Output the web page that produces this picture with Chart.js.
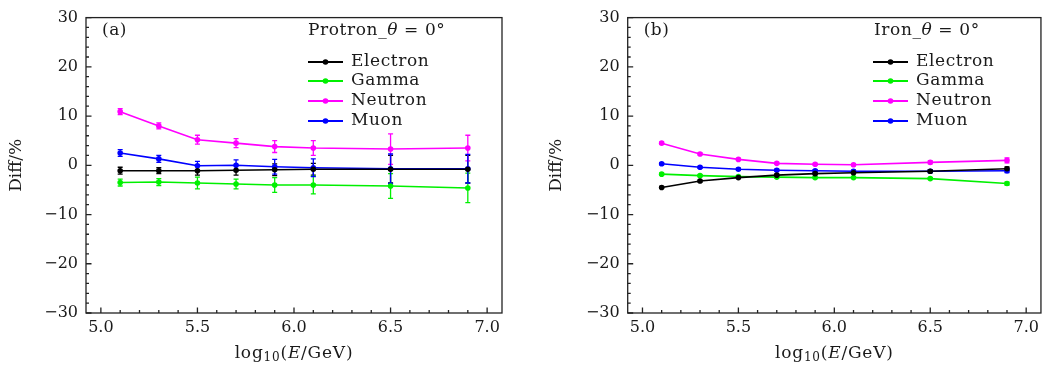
<!DOCTYPE html>
<html><head><meta charset="utf-8">
<script src="https://cdn.jsdelivr.net/npm/chart.js@4"></script>
<style>
html,body{margin:0;padding:0;background:#fff;width:1044px;height:374px;overflow:hidden}
#wa{position:absolute;left:0;top:0;width:520px;height:374px}
#wb{position:absolute;left:540px;top:0;width:504px;height:374px}
</style></head><body>
<div id="wa"><canvas id="ca" width="520" height="374"></canvas></div>
<div id="wb"><canvas id="cb" width="504" height="374"></canvas></div>
<script>
// ---------- data ----------
const energies = [5.1, 5.3, 5.5, 5.7, 5.9, 6.1, 6.5, 6.9];
const seriesNames = ['Electron', 'Gamma', 'Neutron', 'Muon'];
const xTickValues = [5.0, 5.5, 6.0, 6.5, 7.0];
const yTickValues = [-30, -20, -10, 0, 10, 20, 30];

// (a) Protron, theta = 0
const protonElectron = [-1.1, -1.1, -1.1, -1.0, -0.9, -0.8, -0.8, -0.8];
const protonElectronErr = [0.7, 0.6, 0.9, 1.0, 1.2, 1.2, 2.8, 2.8];
const protonGamma = [-3.5, -3.4, -3.6, -3.8, -4.0, -4.0, -4.2, -4.6];
const protonGammaErr = [0.7, 0.7, 1.2, 1.0, 1.5, 1.8, 2.5, 3.0];
const protonNeutron = [10.9, 8.0, 5.2, 4.5, 3.8, 3.5, 3.3, 3.5];
const protonNeutronErr = [0.6, 0.6, 0.9, 0.9, 1.2, 1.5, 3.1, 2.6];
const protonMuon = [2.5, 1.3, -0.1, 0.0, -0.3, -0.5, -0.7, -0.7];
const protonMuonErr = [0.7, 0.7, 0.9, 1.1, 1.5, 1.8, 3.0, 2.9];

// (b) Iron, theta = 0
const ironElectron = [-4.5, -3.2, -2.5, -2.0, -1.7, -1.5, -1.2, -0.7];
const ironElectronErr = [0.2, 0.2, 0.2, 0.2, 0.2, 0.2, 0.3, 0.4];
const ironGamma = [-1.8, -2.1, -2.3, -2.4, -2.5, -2.5, -2.7, -3.7];
const ironGammaErr = [0.2, 0.2, 0.2, 0.2, 0.2, 0.2, 0.2, 0.3];
const ironNeutron = [4.5, 2.3, 1.2, 0.4, 0.2, 0.1, 0.6, 1.0];
const ironNeutronErr = [0.2, 0.2, 0.2, 0.2, 0.2, 0.2, 0.3, 0.5];
const ironMuon = [0.3, -0.4, -0.8, -1.0, -1.1, -1.2, -1.2, -1.1];
const ironMuonErr = [0.2, 0.2, 0.2, 0.2, 0.2, 0.2, 0.3, 0.4];

const seriesColors = ['#000000', '#00f000', '#ff00ff', '#0000ff'];
// ---------------------------

const FONT = '"DejaVu Serif", serif';
const TXT = '#1a1a1a';

function drawRich(ctx, parts, x, y, align, spacing) {
  // parts: [text, style, size, dy]
  ctx.letterSpacing = (spacing || 0) + 'px';
  let total = 0;
  parts.forEach(p => { ctx.font = (p[1] || '') + ' ' + p[2] + 'px ' + FONT; total += ctx.measureText(p[0]).width; });
  let cx = align === 'center' ? x - total / 2 : x;
  ctx.textAlign = 'left';
  parts.forEach(p => {
    ctx.font = (p[1] || '') + ' ' + p[2] + 'px ' + FONT;
    ctx.fillText(p[0], cx, y + (p[3] || 0));
    cx += ctx.measureText(p[0]).width;
  });
  ctx.letterSpacing = '0px';
}

function makeChart(id, values, errors, opt) {
  const datasets = values.map((vals, i) => ({
    label: seriesNames[i],
    data: energies.map((e, j) => ({x: e, y: vals[j]})),
    borderColor: seriesColors[i],
    backgroundColor: seriesColors[i],
    borderWidth: 1.6,
    pointRadius: 2.8,
    pointBorderWidth: 0,
    pointHoverRadius: 2.8,
    tension: 0
  }));
  const deco = {
    id: 'deco',
    beforeDatasetsDraw(chart) {
      const ctx = chart.ctx, xs = chart.scales.x, ys = chart.scales.y;
      chart.data.datasets.forEach((ds, i) => {
        const errs = errors[i];
        ctx.save();
        ctx.strokeStyle = ds.borderColor; ctx.lineWidth = 1.3;
        ds.data.forEach((p, j) => {
          const px = xs.getPixelForValue(p.x);
          const y1 = ys.getPixelForValue(p.y - errs[j]);
          const y2 = ys.getPixelForValue(p.y + errs[j]);
          ctx.beginPath();
          ctx.moveTo(px, y1); ctx.lineTo(px, y2);
          ctx.moveTo(px - 2.5, y1); ctx.lineTo(px + 2.5, y1);
          ctx.moveTo(px - 2.5, y2); ctx.lineTo(px + 2.5, y2);
          ctx.stroke();
        });
        ctx.restore();
      });
    },
    afterDraw(chart) {
      const ctx = chart.ctx, a = chart.chartArea, xs = chart.scales.x, ys = chart.scales.y;
      ctx.save();
      // frame
      ctx.strokeStyle = '#222'; ctx.lineWidth = 1.3;
      ctx.strokeRect(a.left, a.top, a.right - a.left, a.bottom - a.top);
      // inward ticks (left and bottom)
      ctx.beginPath();
      for (let k = -15; k <= 15; k++) {
        const v = k * 2;
        const py = ys.getPixelForValue(v);
        const len = (v % 10 === 0) ? 5.5 : 3;
        ctx.moveTo(a.left, py); ctx.lineTo(a.left + len, py);
      }
      for (let k = 50; k <= 70; k++) {
        const px = xs.getPixelForValue(k / 10);
        const len = (k % 5 === 0) ? 5.5 : 3;
        ctx.moveTo(px, a.bottom); ctx.lineTo(px, a.bottom - len);
      }
      ctx.stroke();
      // texts
      ctx.fillStyle = TXT; ctx.textBaseline = 'middle';
      drawRich(ctx, [[opt.tag, '', 17]], a.left + opt.tagDX, opt.tagY, 'left', 0.5);
      drawRich(ctx, [[opt.name + '_', '', 17], ['θ', 'italic', 17], [' = 0°', '', 17]], opt.titleX, opt.titleY, 'left', 0.6);
      chart.data.datasets.forEach((ds, i) => {
        const y = opt.rows[i];
        ctx.strokeStyle = ds.borderColor; ctx.lineWidth = 2;
        ctx.beginPath(); ctx.moveTo(opt.lineX, y); ctx.lineTo(opt.lineX + 35, y); ctx.stroke();
        ctx.fillStyle = ds.borderColor;
        ctx.beginPath(); ctx.arc(opt.lineX + 17.5, y, 2.8, 0, Math.PI * 2); ctx.fill();
        ctx.fillStyle = TXT;
        drawRich(ctx, [[ds.label, '', 17]], opt.lineX + 43, y, 'left', 0.6);
      });
      // x axis title
      drawRich(ctx, [['log', '', 17], ['10', '', 12, 4], ['(', '', 17], ['E', 'italic', 17], ['/GeV)', '', 17]],
        (a.left + a.right) / 2, 354, 'center', 0.8);
      ctx.restore();
    }
  };
  return new Chart(document.getElementById(id), {
    type: 'line',
    data: {datasets},
    plugins: [deco],
    options: {
      responsive: false,
      animation: false,
      events: [],
      layout: {padding: {left: 0, top: 10.5, right: opt.padRight, bottom: 0}},
      plugins: {legend: {display: false}, tooltip: {enabled: false}},
      scales: {
        x: {
          type: 'linear', min: 4.923, max: 7.077,
          afterBuildTicks: s => { s.ticks = xTickValues.map(v => ({value: v})); },
          afterFit: s => { s.height = 61; },
          grid: {display: false, drawTicks: false},
          border: {display: false},
          ticks: {padding: 5, color: TXT, font: {family: FONT, size: 16}, callback: v => Number(v).toFixed(1)}
        },
        y: {
          type: 'linear', min: -30, max: 30,
          afterBuildTicks: s => { s.ticks = yTickValues.map(v => ({value: v})); },
          afterFit: s => { s.width = opt.yWidth; },
          grid: {display: false, drawTicks: false},
          border: {display: false},
          title: {display: true, text: 'Diff/%', color: TXT, font: {family: FONT, size: 17}, padding: {top: 6, bottom: 0}},
          ticks: {padding: 8, color: TXT, font: {family: FONT, size: 16},
            callback: v => (v < 0 ? '\u2212' + Math.abs(v) : String(v))}
        }
      }
    }
  });
}

makeChart('ca',
  [protonElectron, protonGamma, protonNeutron, protonMuon],
  [protonElectronErr, protonGammaErr, protonNeutronErr, protonMuonErr],
  {name: 'Protron', tag: '(a)', tagDX: 16, tagY: 31, titleX: 308, titleY: 31,
   lineX: 308, rows: [62, 81, 101, 121], yWidth: 86, padRight: 18});
makeChart('cb',
  [ironElectron, ironGamma, ironNeutron, ironMuon],
  [ironElectronErr, ironGammaErr, ironNeutronErr, ironMuonErr],
  {name: 'Iron', tag: '(b)', tagDX: 16, tagY: 31, titleX: 334, titleY: 31,
   lineX: 333, rows: [62, 81, 101, 121], yWidth: 87.7, padRight: 1.3});
</script>
</body></html>
